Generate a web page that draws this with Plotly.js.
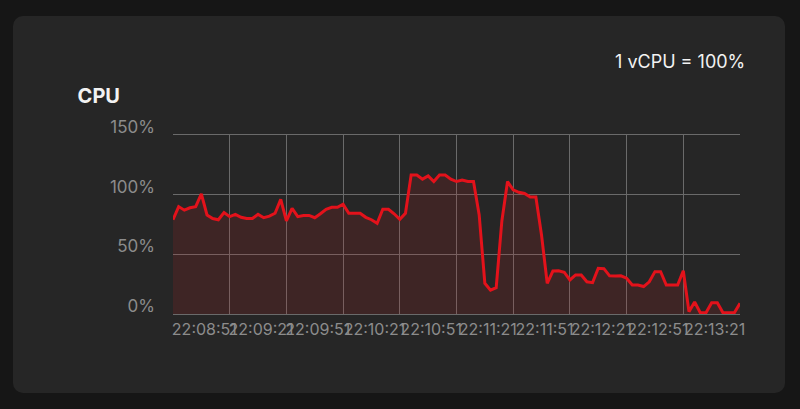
<!DOCTYPE html>
<html>
<head>
<meta charset="utf-8">
<script src="https://cdn.plot.ly/plotly-3.0.1.min.js"></script>
<style>
  html, body { margin: 0; padding: 0; background: #161616; width: 800px; height: 409px; overflow: hidden; }
  #card { position: absolute; left: 13px; top: 16px; width: 772px; height: 377px; border-radius: 10px; background: #262626; }
  #chart { position: absolute; left: 0; top: 0; width: 800px; height: 409px; }
</style>
</head>
<body>
<div id="card"></div>
<div id="chart"></div>
<script>
// Sample offsets (seconds after 22:08:51) and CPU usage (%)
const startTime = '2024-01-01 22:08:51';
const endTime = '2024-01-01 22:13:51';
const offsetsSec = [0,3,6,9,12,15,18,21,24,27,30,33,36,39,42,45,48,51,54,57,60,63,66,69,72,75,78,81,84,87,90,93,96,99,102,105,108,111,114,117,120,123,126,129,132,135,138,141,144,147,150,153,156,159,162,165,168,171,174,177,180,183,186,189,192,195,198,201,204,207,210,213,216,219,222,225,228,231,234,237,240,243,246,249,252,255,258,261,264,267,270,273,276,279,282,285,288,291,294,297,300];
const cpuValues = [79,90,87,89,90,100.6,83,80,79,85,81.6,83.5,81,80,80,83.5,80.7,82,84.4,96,78,88.6,81.6,82.6,82.6,80.7,84,87.8,89.4,89.4,92,84.4,84.4,84.4,81,79,76,87.8,87.8,84,79.3,84.4,116.5,116.5,113,115.7,111,116.5,116.5,113,111,112.3,111,111,83,25.7,20,22,78,111,104,102,101,98,98,66,25.7,36,36.3,35,28.5,32.7,32.7,27,26.3,38.3,38,32,31.8,32,30,24.3,24.3,23,27,35.5,35.5,24.3,24.3,24.3,36.3,2,10,1,1,9.5,9.5,1,1,1,9];
const xTickLabels = ['22:08:51','22:09:21','22:09:51','22:10:21','22:10:51','22:11:21','22:11:51','22:12:21','22:12:51','22:13:21'];
const yTickVals = [0, 50, 100, 150];
const yTickLabels = ['0%', '50%', '100%', '150%'];

const base = new Date('2024-01-01T22:08:51Z').getTime();
function fmt(ms) {
  const d = new Date(ms);
  const p = n => String(n).padStart(2, '0');
  return '2024-01-01 ' + p(d.getUTCHours()) + ':' + p(d.getUTCMinutes()) + ':' + p(d.getUTCSeconds());
}
const xTimes = offsetsSec.map(s => fmt(base + s * 1000));
// each label names a 30 s period; it is shown at the middle of that period
const xLabelPos = xTickLabels.map((_, i) => fmt(base + (i * 30 + 15) * 1000));

const trace = {
  x: xTimes,
  y: cpuValues,
  xaxis: 'x',
  yaxis: 'y',
  type: 'scatter',
  mode: 'lines',
  line: { color: '#e3121b', width: 3 },
  fill: 'tozeroy',
  fillcolor: 'rgba(190,40,40,0.16)',
  hoverinfo: 'skip'
};

const gridColor = '#6a6a6a';
const tickFont = { family: 'Inter, Roboto, sans-serif', size: 16, color: '#8c8c8c' };

const layout = {
  width: 800,
  height: 409,
  paper_bgcolor: 'rgba(0,0,0,0)',
  plot_bgcolor: 'rgba(0,0,0,0)',
  margin: { l: 173, r: 60, t: 135, b: 95 },
  showlegend: false,
  font: { family: 'Inter, Roboto, sans-serif', color: '#8c8c8c', size: 16 },
  title: {
    text: '<b>CPU</b>',
    xref: 'container', yref: 'container',
    x: 0.097, y: 0.765, xanchor: 'left', yanchor: 'middle',
    font: { family: 'Inter, Roboto, sans-serif', size: 20, color: '#f2f2f2' }
  },
  xaxis: {
    type: 'date',
    range: [startTime, endTime],
    tickmode: 'array',
    tickvals: xLabelPos,
    ticktext: xTickLabels,
    tickangle: 0,
    showgrid: false,
    zeroline: false,
    // the 0 % and 150 % grid lines lie on the plot edges
    showline: true,
    mirror: true,
    linecolor: gridColor,
    linewidth: 1,
    layer: 'below traces',
    ticks: '',
    ticklabelstandoff: 1,
    ticklabelshift: 3,
    tickfont: tickFont,
    fixedrange: true
  },
  xaxis2: {
    type: 'date',
    overlaying: 'x',
    matches: 'x',
    anchor: 'y',
    side: 'bottom',
    range: [startTime, endTime],
    tick0: startTime,
    dtick: 30000,
    showticklabels: false,
    showgrid: true,
    gridcolor: gridColor,
    gridwidth: 1,
    zeroline: false,
    showline: false,
    ticks: '',
    fixedrange: true
  },
  yaxis: {
    range: [0, 150],
    tickmode: 'array',
    tickvals: yTickVals,
    ticktext: yTickLabels,
    showgrid: true,
    gridcolor: gridColor,
    gridwidth: 1,
    zeroline: false,
    showline: false,
    ticks: '',
    ticklabelstandoff: 17,
    ticklabelshift: -8,
    tickfont: { family: 'Inter, Roboto, sans-serif', size: 17, color: '#8c8c8c' },
    fixedrange: true
  },
  annotations: [{
    text: '1 vCPU = 100%',
    xref: 'paper', yref: 'paper',
    x: 1.0123, y: 1.408,
    xanchor: 'right', yanchor: 'middle',
    showarrow: false,
    font: { family: 'Inter, Roboto, sans-serif', size: 18, color: '#f2f2f2' }
  }]
};

// an empty trace on the grid axis so that its subplot is built
const gridTrace = { x: [], y: [], xaxis: 'x2', yaxis: 'y', type: 'scatter', mode: 'lines', hoverinfo: 'skip' };

Plotly.newPlot('chart', [gridTrace, trace], layout, { displayModeBar: false, staticPlot: true });
</script>
</body>
</html>
